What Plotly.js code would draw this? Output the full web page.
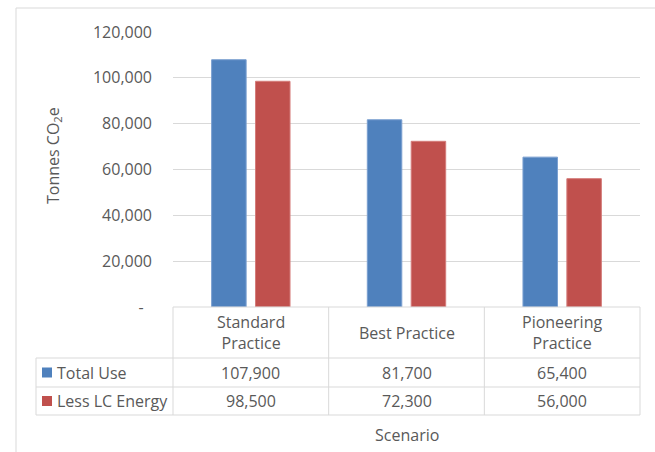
<!DOCTYPE html>
<html>
<head>
<meta charset="utf-8">
<script src="https://cdn.plot.ly/plotly-3.0.1.min.js"></script>
<style>html,body{margin:0;padding:0;background:#fff;}#chart{width:655px;height:452px;}</style>
</head>
<body>
<div id="chart"></div>
<script>
// ---- data ----
const categories = ["Standard Practice", "Best Practice", "Pioneering Practice"];
const headerLabels = ["Standard<br>Practice", "Best Practice", "Pioneering<br>Practice"];
const seriesNames = ["Total Use", "Less LC Energy"];
const totalUse = [107900, 81700, 65400];
const lessLCEnergy = [98500, 72300, 56000];
const yTickVals = [0, 20000, 40000, 60000, 80000, 100000, 120000];
const yTickText = ["-\u00a0\u00a0", "20,000", "40,000", "60,000", "80,000", "100,000", "120,000"];
const xAxisTitle = "Scenario";
const yAxisTitle = "Tonnes CO<sub>2</sub>e";

// ---- styling / geometry ----
const colors = ["#4f81bd", "#c0504d"];
const edge = ["#7a9fd0", "#d47c7a"];
const txt = "#595959";
const grid = "#d9d9d9";
const FONT = "Open Sans, sans-serif";
const L = 173, R = 640, T = 32, B = 307;
const px = x => (x - L) / (R - L);
const py = y => (B - y) / (B - T);
const fmt = v => v.toLocaleString("en-US");

const seriesValues = [totalUse, lessLCEnergy];
const traces = seriesValues.map((vals, i) => ({
  type: "bar",
  name: seriesNames[i],
  x: categories,
  y: vals,
  marker: {color: colors[i], line: {color: edge[i], width: 1}},
  hoverinfo: "none"
}));

const shapes = [];
const annotations = [];
const line = (x0, y0, x1, y1) => shapes.push({type: "line", xref: "paper", yref: "paper",
  x0: px(x0), y0: py(y0), x1: px(x1), y1: py(y1), line: {color: grid, width: 1}});

// outer chart border
shapes.push({type: "rect", xref: "paper", yref: "paper", x0: px(16), y0: py(8), x1: px(700), y1: py(520),
  line: {color: grid, width: 1}, fillcolor: "rgba(0,0,0,0)", layer: "below"});

// data table grid
const rowTop = 307, hdrBottom = 358, row1Bottom = 387, row2Bottom = 415, tableLeft = 36;
line(L, rowTop, R, rowTop);
line(tableLeft, hdrBottom, R, hdrBottom);
line(tableLeft, row1Bottom, R, row1Bottom);
line(tableLeft, row2Bottom, R, row2Bottom);
line(tableLeft, hdrBottom, tableLeft, row2Bottom);
const colW = (R - L) / categories.length;
for (let i = 0; i <= categories.length; i++) line(L + i * colW, rowTop, L + i * colW, row2Bottom);

// headers
categories.forEach((c, i) => {
  annotations.push({xref: "x", yref: "paper", x: i, y: py((rowTop + hdrBottom) / 2), text: headerLabels[i],
    showarrow: false, xanchor: "center", yanchor: "middle", font: {family: FONT, size: 16, color: txt}});
});
// rows
const rowCenters = [(hdrBottom + row1Bottom) / 2, (row1Bottom + row2Bottom) / 2];
seriesValues.forEach((vals, r) => {
  shapes.push({type: "rect", xref: "paper", yref: "paper", x0: px(42), x1: px(52),
    y0: py(rowCenters[r] - 5), y1: py(rowCenters[r] + 5), line: {width: 0}, fillcolor: colors[r]});
  annotations.push({xref: "paper", yref: "paper", x: px(55), y: py(rowCenters[r]), text: seriesNames[r],
    showarrow: false, xanchor: "left", yanchor: "middle", font: {family: FONT, size: 16, color: txt}});
  vals.forEach((v, i) => {
    annotations.push({xref: "x", yref: "paper", x: i, y: py(rowCenters[r]), text: fmt(v),
      showarrow: false, xanchor: "center", yanchor: "middle", font: {family: FONT, size: 16, color: txt}});
  });
});
// axis titles
annotations.push({xref: "paper", yref: "paper", x: px(407), y: py(435), text: xAxisTitle, showarrow: false,
  xanchor: "center", yanchor: "middle", font: {family: FONT, size: 16, color: txt}});
annotations.push({xref: "paper", yref: "paper", x: px(53), y: py(156), text: yAxisTitle, showarrow: false,
  textangle: -90, xanchor: "center", yanchor: "middle", font: {family: FONT, size: 16, color: txt}});

const layout = {
  width: 655, height: 452,
  margin: {l: L, r: 655 - R, t: T, b: 452 - B, pad: 0},
  paper_bgcolor: "#fff", plot_bgcolor: "#fff",
  showlegend: false,
  barmode: "group", bargap: 0.436, bargroupgap: 0.214,
  font: {family: FONT, size: 16, color: txt},
  xaxis: {type: "category", range: [-0.5, 2.5], showticklabels: false, showgrid: false, zeroline: false, showline: false, fixedrange: true},
  yaxis: {range: [0, 120000], tickvals: yTickVals, ticktext: yTickText, showgrid: true, gridcolor: grid, gridwidth: 1,
    zeroline: false, showline: false, ticks: "", ticklabelstandoff: 20, tickfont: {family: FONT, size: 16, color: txt}, fixedrange: true},
  shapes: shapes,
  annotations: annotations
};
Plotly.newPlot("chart", traces, layout, {displayModeBar: false, staticPlot: true});
</script>
</body>
</html>
